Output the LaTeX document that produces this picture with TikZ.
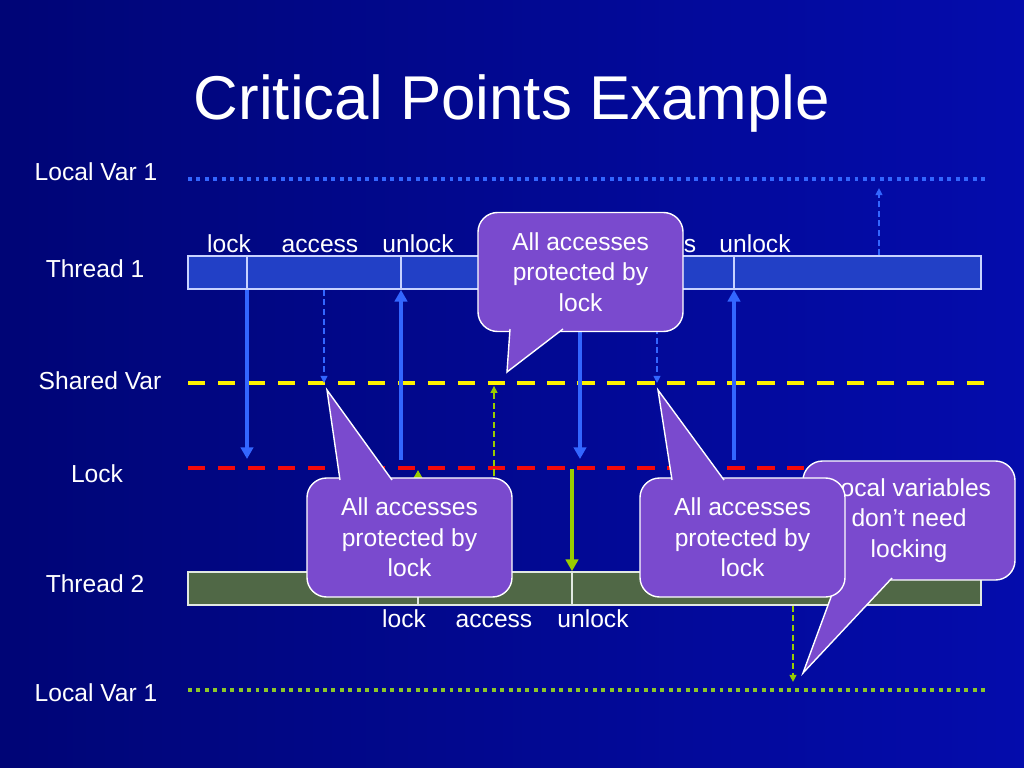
\documentclass[tikz,border=0pt]{standalone}
\usepackage{fontspec}
\setmainfont{Liberation Sans}
\usetikzlibrary{arrows.meta, positioning}

\definecolor{slidedark}{RGB}{0,5,118}
\definecolor{slideblue}{RGB}{4,12,172}
\definecolor{baron}{RGB}{34,64,198}
\definecolor{bartwo}{RGB}{80,104,70}
\definecolor{edgeone}{RGB}{200,210,255}
\definecolor{edgetwo}{RGB}{225,232,225}
\definecolor{onecol}{RGB}{51,102,255}
\definecolor{twocol}{RGB}{153,204,0}
\definecolor{dotgreen}{RGB}{140,200,40}
\definecolor{lockred}{RGB}{245,10,10}
\definecolor{notepurple}{RGB}{122,74,206}

% tail of a speech bubble: base left, base right, tip
\newcommand{\notetail}[3]{%
    \fill[notepurple] #1 -- #3 -- #2 -- cycle;
    \draw[white, line width=1pt] #1 -- #3 -- #2;
}

\tikzset{
    every node/.style={ % all texts are white
        text=white,
        font=\fontsize{17.5}{21.6}\selectfont
    },
    title/.style={anchor=base, font=\fontsize{44}{50}\selectfont},
    row label/.style={anchor=base},
    event label/.style={anchor=base},
    thread bar/.style={ % the two time lines
        line width=1.2pt,
        minimum width=19.825cm,
        minimum height=0.825cm,
        inner sep=0pt
    },
    local line/.style={line width=2.8pt, dash pattern=on 2.8pt off 3.2pt},
    long dash/.style={line width=3.3pt, dash pattern=on 12.4pt off 8.9pt},
    one arrow/.style={draw=onecol, line width=2.8pt, -{Triangle[length=8.3pt, width=8.8pt]}},
    one dash/.style={draw=onecol, line width=1.1pt, dash pattern=on 4.3pt off 2.5pt,
        -{Triangle[length=5pt, width=4.8pt]}},
    two arrow/.style={one arrow, draw=twocol},
    two dash/.style={one dash, draw=twocol},
    note/.style={ % speech bubbles
        fill=notepurple,
        draw=white,
        line width=1pt,
        rounded corners=14pt,
        minimum width=5.125cm,
        minimum height=2.975cm,
        align=center,
        inner sep=0pt
    }
}

\begin{document}
\begin{tikzpicture}[x=0.025cm, y=-0.025cm]
    \shade[left color=slidedark, right color=slideblue] (0,0) rectangle (1024,768);

    \node[title] (title) at (512,120) {Critical Points Example};

    \node[row label] (toplabel)    at (96,181)  {Local Var 1};
    \node[row label] (t1label)     at (95,277)  {Thread 1};
    \node[row label] (sharedlabel) at (100,389) {Shared Var};
    \node[row label] (locklabel)   at (97,482)  {Lock};
    \node[row label] (t2label)     at (95,592)  {Thread 2};
    \node[row label] (botlabel)    at (96,701)  {Local Var 1};

    % the four variable lines
    \coordinate (top)    at (188,179); \coordinate (top end)    at (985,179);
    \coordinate (shared) at (188,383); \coordinate (shared end) at (985,383);
    \coordinate (lock)   at (188,468); \coordinate (lock end)   at (985,468);
    \coordinate (bottom) at (188,690); \coordinate (bottom end) at (985,690);
    \draw[local line, draw=onecol]    (top) -- (top end);
    \draw[long dash, draw=yellow]     (shared) -- (shared end);
    \draw[long dash, draw=lockred]    (lock) -- (lock end);
    \draw[local line, draw=dotgreen]  (bottom) -- (bottom end);

    % the two threads
    \node[thread bar, fill=baron, draw=edgeone]  (t1) at (584.5,272.5) {};
    \node[thread bar, fill=bartwo, draw=edgetwo] (t2) at (584.5,588.5) {};

    \coordinate (lk1) at (247,0); \coordinate (ac1) at (324,0); \coordinate (ul1) at (401,0);
    \coordinate (lk2) at (580,0); \coordinate (ac2) at (657,0); \coordinate (ul2) at (734,0);
    \coordinate (lv1) at (879,0);
    \coordinate (lk3) at (418,0); \coordinate (ac3) at (494,0); \coordinate (ul3) at (572,0);
    \coordinate (lv2) at (793,0);

    \draw[line width=1.2pt, edgeone]
            (t1.north -| lk1) -- (t1.south -| lk1)
            (t1.north -| ul1) -- (t1.south -| ul1)
            (t1.north -| lk2) -- (t1.south -| lk2)
            (t1.north -| ul2) -- (t1.south -| ul2)
    ;
    \draw[line width=1.2pt, edgetwo]
            (t2.north -| lk3) -- (t2.south -| lk3)
            (t2.north -| ul3) -- (t2.south -| ul3)
    ;

    \node[event label] (t1lock)    at (229,252) {lock};
    \node[event label] (t1access)  at (320,252) {access};
    \node[event label] (t1unlock)  at (418,252) {unlock};
    \node[event label] (t1access2) at (658,252) {access};
    \node[event label] (t1unlock2) at (755,252) {unlock};
    \node[event label] (t2lock)    at (404,627) {lock};
    \node[event label] (t2access)  at (494,627) {access};
    \node[event label] (t2unlock)  at (593,627) {unlock};

    % thread 1 accesses
    \draw[one arrow, shorten >=6.4pt] (t1.south -| lk1) -- (lock -| lk1);
    \draw[one dash]                   (t1.south -| ac1) -- (shared -| ac1);
    \draw[one arrow, shorten <=5.7pt] (lock -| ul1) -- (t1.south -| ul1);
    \draw[one arrow, shorten >=6.4pt] (t1.south -| lk2) -- (lock -| lk2);
    \draw[one dash]                   (t1.south -| ac2) -- (shared -| ac2);
    \draw[one arrow, shorten <=5.7pt] (lock -| ul2) -- (t1.south -| ul2);
    \draw[one dash, shorten >=6.4pt]  (t1.north -| lv1) -- (top -| lv1);

    % thread 2 accesses
    \draw[two arrow, shorten >=1.4pt] (t2.north -| lk3) -- (lock -| lk3);
    \draw[two dash, shorten >=2pt]    (t2.north -| ac3) -- (shared -| ac3);
    \draw[two arrow, shorten <=0.7pt] (lock -| ul3) -- (t2.north -| ul3);
    \draw[two dash, shorten >=5.7pt]  (t2.south -| lv2) -- (bottom -| lv2);

    % speech bubbles
    \node[note] (note1) at (580.5,272) {All accesses\\protected by\\lock};
    \notetail{(510,329)}{(563,329)}{(507,372)}
    \node[note] (note2) at (409.5,537.5) {All accesses\\protected by\\lock};
    \notetail{(340,480)}{(392,480)}{(327,390)}
    \node[note, minimum width=5.3cm] (note4) at (909,520.5) {Local variables\\don’t need\\locking};
    \notetail{(838,578)}{(892,578)}{(803,673)}
    \node[note] (note3) at (742.5,537.5) {All accesses\\protected by\\lock};
    \notetail{(672,480)}{(724,480)}{(658,390)}
\end{tikzpicture}
\end{document}
